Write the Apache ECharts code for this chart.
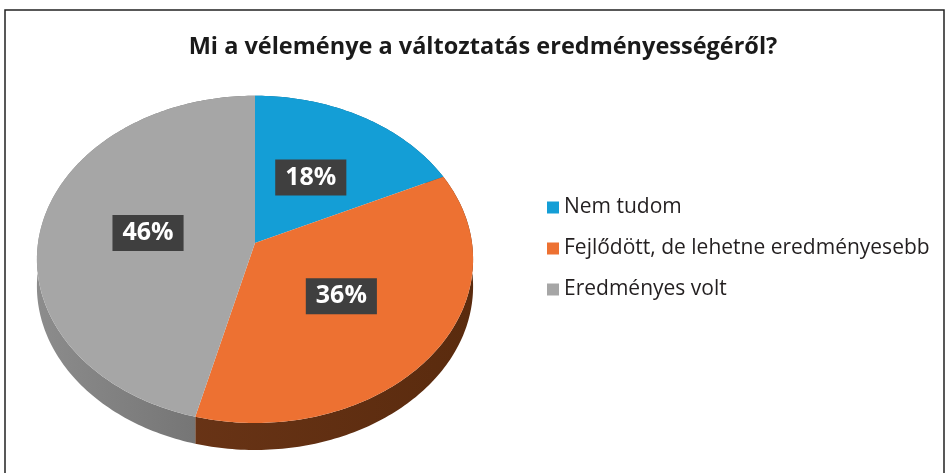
<!DOCTYPE html>
<html>
<head>
<meta charset="utf-8">
<script src="https://cdn.jsdelivr.net/npm/echarts@6/dist/echarts.min.js"></script>
<style>
  html, body { margin: 0; padding: 0; background: #ffffff; }
  #chart { width: 948px; height: 473px; }
</style>
</head>
<body>
<div id="chart"></div>
<script>
const categories = ['Nem tudom', 'Fejlődött, de lehetne eredményesebb', 'Eredményes volt'];
const values = [18, 36, 46];
const colors = ['#149ed6', '#ed7132', '#a6a6a6'];
// side wall shades (light end, dark end)
const sideColors = [['#0c6f99', '#085a7c'], ['#70381a', '#5a2b0e'], ['#8c8c8c', '#4e4e4e']];

// pie geometry (tilted disk with a little perspective)
const CX = 255, CY = 243, RX = 217, RY = 162, K = 0.1, DEPTH = 27;

const total = values.reduce((a, b) => a + b, 0);

function proj(theta, r, drop) {
  const u = r * Math.sin(theta), v = -r * Math.cos(theta);
  const w = 1 - K * v;
  return [CX + RX * u / w, CY + RY * v / w + drop];
}

function arc(a0, a1, drop) {
  const pts = [];
  const n = Math.max(2, Math.ceil((a1 - a0) / (Math.PI / 180)));
  for (let k = 0; k <= n; k++) pts.push(proj(a0 + (a1 - a0) * k / n, 1, drop));
  return pts;
}

function makeRender(i) {
  return function (params, api) {
    let before = 0;
    for (let j = 0; j < i; j++) before += values[j];
    const val = api.value(0);
    const a0 = before / total * Math.PI * 2;
    const a1 = (before + val) / total * Math.PI * 2;
    const topEdge = arc(a0, a1, 0);
    const lowEdge = arc(a0, a1, DEPTH).reverse();
    const mid = (a0 + a1) / 2;
    const lp = proj(mid, 0.5, 0);
    return {
      type: 'group',
      children: [
        {
          type: 'polygon',
          z2: 1,
          shape: { points: topEdge.concat(lowEdge) },
          style: {
            fill: {
              type: 'linear', x: CX - RX, y: 0, x2: CX + RX, y2: 0, global: true,
              colorStops: [{ offset: 0, color: sideColors[i][0] }, { offset: 1, color: sideColors[i][1] }]
            }
          }
        },
        {
          type: 'polygon',
          z2: 10,
          shape: { points: [[CX, CY]].concat(topEdge) },
          style: { fill: colors[i] }
        },
        {
          type: 'text',
          z2: 20,
          x: lp[0],
          y: lp[1],
          style: {
            text: Math.round(val / total * 100) + '%',
            fill: '#ffffff',
            font: 'bold 25px "Open Sans"',
            align: 'center',
            verticalAlign: 'middle',
            textAlign: 'center',
            textVerticalAlign: 'middle',
            backgroundColor: '#3f3f3f',
            padding: [6, 10, 5, 10]
          }
        }
      ]
    };
  };
}

const chart = echarts.init(document.getElementById('chart'), null, { renderer: 'canvas' });

chart.setOption({
  backgroundColor: '#ffffff',
  animation: false,
  title: {
    text: 'Mi a véleménye a változtatás eredményességéről?',
    left: 478,
    textAlign: 'center',
    top: 30,
    textStyle: {
      fontFamily: '"Open Sans", sans-serif',
      fontWeight: 'bold',
      fontSize: 23.5,
      color: '#1a1a1a'
    }
  },
  legend: {
    orient: 'vertical',
    left: 547,
    top: 197,
    padding: 0,
    icon: 'rect',
    itemWidth: 12,
    itemHeight: 12,
    itemGap: 20,
    data: categories,
    textStyle: {
      fontFamily: '"Open Sans", sans-serif',
      fontSize: 21,
      lineHeight: 20,
      color: '#231f20'
    }
  },
  graphic: [{
    type: 'rect',
    shape: { x: 5, y: 10, width: 939, height: 480 },
    style: { fill: null, stroke: '#222222', lineWidth: 1.5 },
    silent: true
  }],
  series: categories.map((name, i) => ({
    type: 'custom',
    name: name,
    coordinateSystem: 'none',
    itemStyle: { color: colors[i] },
    data: [values[i]],
    renderItem: makeRender(i)
  }))
});
</script>
</body>
</html>
